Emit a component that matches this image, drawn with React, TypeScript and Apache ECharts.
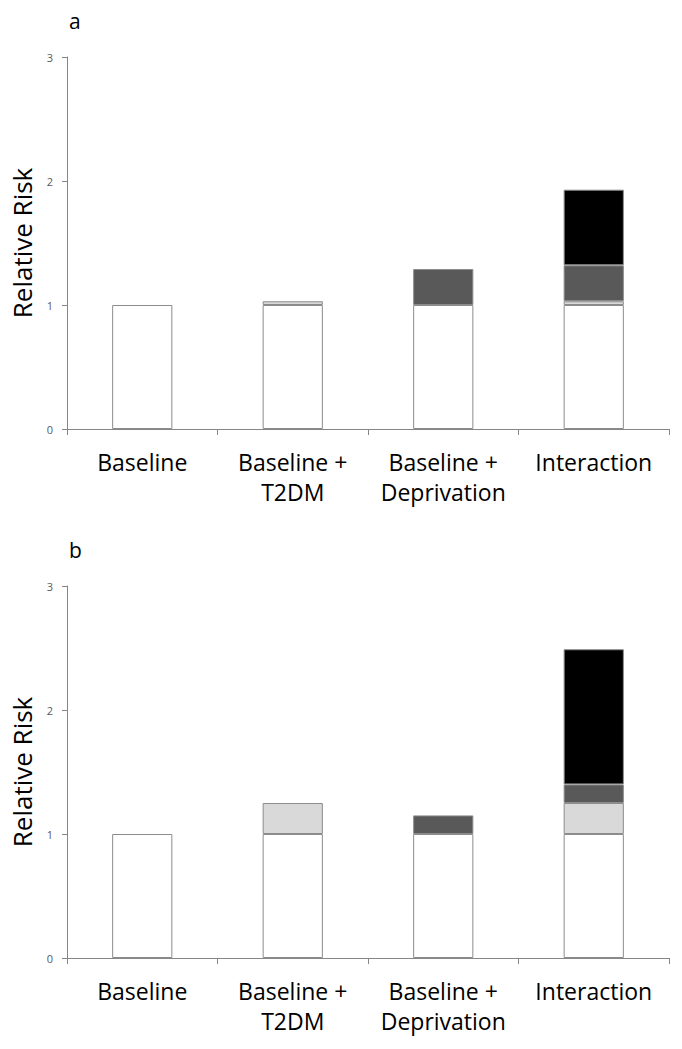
import React, { useEffect, useRef } from "react";
import * as echarts from "echarts";

const categories = ["Baseline", "Baseline +\nT2DM", "Baseline +\nDeprivation", "Interaction"];
const yTicks = [0, 1, 2, 3];

// Panel a
const aBase = [1, 1, 1, 1];
const aT2dm = [null, 0.03, null, 0.03];
const aDep = [null, null, 0.29, 0.29];
const aInter = [null, null, null, 0.61];

// Panel b
const bBase = [1, 1, 1, 1];
const bT2dm = [null, 0.25, null, 0.25];
const bDep = [null, null, 0.15, 0.15];
const bInter = [null, null, null, 1.09];

const FONT = "Open Sans";
const AXIS_GRAY = "#868686";
const BAR_BORDER = "#8c8c8c";

function xAxis(gridIndex: number) {
  return {
    type: "category",
    gridIndex,
    data: categories,
    axisLine: { show: true, lineStyle: { color: AXIS_GRAY, width: 1 } },
    axisTick: { show: true, alignWithLabel: false, length: 6, lineStyle: { color: AXIS_GRAY } },
    axisLabel: {
      interval: 0,
      color: "#000",
      fontFamily: FONT,
      fontSize: 23,
      lineHeight: 30,
      margin: 18,
    },
  };
}

function yAxis(gridIndex: number) {
  return {
    type: "value",
    gridIndex,
    min: yTicks[0],
    max: yTicks[yTicks.length - 1],
    interval: 1,
    name: "Relative Risk",
    nameLocation: "middle",
    nameGap: 32,
    nameTextStyle: { color: "#000", fontFamily: FONT, fontSize: 26 },
    splitLine: { show: false },
    axisLine: { show: true, lineStyle: { color: AXIS_GRAY, width: 1 } },
    axisTick: { show: true, length: 5, lineStyle: { color: AXIS_GRAY } },
    axisLabel: { color: "#595959", fontFamily: FONT, fontSize: 11, margin: 14 },
  };
}

function barSeries(idx: number, stack: string, data: (number | null)[], color: string) {
  return {
    type: "bar",
    xAxisIndex: idx,
    yAxisIndex: idx,
    stack,
    data,
    barWidth: "40%",
    itemStyle: { color, borderColor: BAR_BORDER, borderWidth: 1 },
    emphasis: { disabled: true },
  };
}

export default function App() {
  const ref = useRef<HTMLDivElement>(null);
  useEffect(() => {
    if (!ref.current) return;
    const chart = echarts.init(ref.current, undefined, { renderer: "svg" });
    chart.setOption({
      animation: false,
      backgroundColor: "#fff",
      grid: [
        { left: 67, width: 602, top: 57, height: 372, containLabel: false, outerBoundsMode: "none" },
        { left: 67, width: 602, top: 586, height: 372, containLabel: false, outerBoundsMode: "none" },
      ],
      xAxis: [xAxis(0), xAxis(1)],
      yAxis: [yAxis(0), yAxis(1)],
      graphic: [
        { type: "text", left: 69, top: 10, style: { text: "a", fontFamily: FONT, fontSize: 21, fill: "#000" } },
        { type: "text", left: 69, top: 539, style: { text: "b", fontFamily: FONT, fontSize: 21, fill: "#000" } },
      ],
      series: [
        barSeries(0, "a", aBase, "#ffffff"),
        barSeries(0, "a", aT2dm, "#d9d9d9"),
        barSeries(0, "a", aDep, "#595959"),
        barSeries(0, "a", aInter, "#000000"),
        barSeries(1, "b", bBase, "#ffffff"),
        barSeries(1, "b", bT2dm, "#d9d9d9"),
        barSeries(1, "b", bDep, "#595959"),
        barSeries(1, "b", bInter, "#000000"),
      ],
    });
    return () => chart.dispose();
  }, []);
  return (
    <div
      ref={ref}
      style={{ position: "fixed", left: 0, top: 0, width: 682, height: 1049, background: "#fff" }}
    />
  );
}
